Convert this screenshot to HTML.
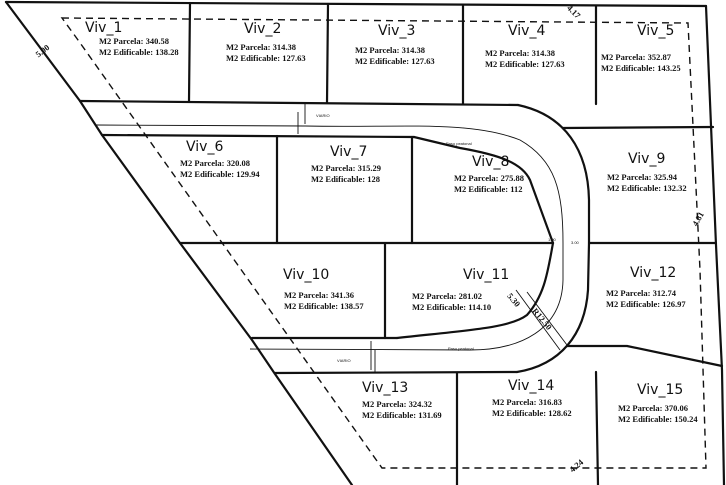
<!DOCTYPE html>
<html><head><meta charset="utf-8"><style>
html,body{margin:0;padding:0;background:#fff;width:726px;height:485px;overflow:hidden}
svg{display:block}
.v{font-family:"DejaVu Sans","Liberation Sans",sans-serif;font-size:14px;fill:#111}
.n{font-family:"Liberation Serif",serif;font-size:8.5px;fill:#111;font-weight:bold}
.s{font-family:"Liberation Sans",sans-serif;font-size:4px;fill:#111}
</style></head><body>
<svg width="726" height="485" viewBox="0 0 726 485" xmlns="http://www.w3.org/2000/svg">
<g fill="none" stroke="#111" stroke-width="2.2" stroke-linecap="round" stroke-linejoin="round">
<!-- outer -->
<line x1="6" y1="2" x2="706" y2="6"/>
<path d="M6 2 L80 101 L102 135 L180 243 L252 340 L275 374 L352 485"/>
<path d="M706 6 L716 245 L722 370 L724 485"/>
<!-- top row -->
<line x1="80" y1="101" x2="518" y2="105"/>
<line x1="190" y1="3" x2="189" y2="101"/>
<line x1="328" y1="4" x2="327" y2="103"/>
<line x1="463" y1="5" x2="463" y2="104"/>
<line x1="596" y1="6" x2="596" y2="104"/>
<line x1="563" y1="128" x2="713" y2="127"/>
<!-- road outer curve -->
<path d="M518 105 C565 115 588 150 589 200 L589 243 L588 290 C585 335 560 365 517 372"/>
<!-- middle row -->
<line x1="102" y1="135" x2="414" y2="137"/>
<line x1="277" y1="136" x2="277" y2="243"/>
<line x1="412" y1="137" x2="412" y2="243"/>
<path d="M414 137 L460 148 C500 155 522 163 530 180 L553 243"/>
<line x1="180" y1="243" x2="553" y2="243"/>
<line x1="589" y1="243" x2="716" y2="243"/>
<!-- row 3 -->
<line x1="385" y1="244" x2="385" y2="338"/>
<path d="M553 243 C548 270 545 295 527 315 C510 328 470 330 397 338"/>
<line x1="252" y1="338" x2="397" y2="338"/>
<path d="M567 346 L627 346 L722 366"/>
<!-- road bottom -->
<line x1="275" y1="373" x2="517" y2="372"/>
<!-- row 4 -->
<line x1="457" y1="373" x2="457" y2="485"/>
<line x1="596" y1="372" x2="598" y2="485"/>
</g>
<g fill="none" stroke="#111" stroke-width="0.9">
<path d="M95 125 L305 126 C400 128 470 120 520 140 C555 160 563 190 563 243 L563 280 C562 330 520 350 470 350 L250 349"/>
<line x1="298" y1="112" x2="298" y2="134"/>
<line x1="305" y1="104" x2="305" y2="124"/>
<line x1="371" y1="341" x2="371" y2="370"/>
<line x1="375" y1="350" x2="375" y2="372"/>
<line x1="527" y1="292" x2="567" y2="345"/>
<line x1="516" y1="290" x2="560" y2="350"/>
</g>
<!-- setback dashed -->
<path d="M62 18 L688 23 L700 270 L706 468 L382 468 L78 40 Z" fill="none" stroke="#111" stroke-width="1.4" stroke-dasharray="7,5"/>
<g class="s"><text x="316" y="117">VIARIO</text><text x="337" y="362">VIARIO</text>
<text x="446" y="145">Paso peatonal</text><text x="448" y="350">Paso peatonal</text>
<text x="548" y="241">1.90</text><text x="571" y="244">3.00</text></g>
<text x="34" y="55" class="n" transform="rotate(-38 40 50)">5.00</text>
<text x="565" y="12" class="n" transform="rotate(45 570 12)">4.17</text>
<text x="690" y="225" class="n" transform="rotate(-60 695 220)">4.81</text>
<text x="570" y="470" class="n" transform="rotate(-40 575 468)">4.24</text>
<text x="505" y="300" class="n" transform="rotate(50 510 300)">5.30</text>
<text x="530" y="315" class="n" transform="rotate(50 535 315)">R12.50</text>
<g class="v">
<text x="85" y="32">Viv_1</text><text x="244" y="33">Viv_2</text><text x="378" y="35">Viv_3</text>
<text x="508" y="35">Viv_4</text><text x="637" y="35">Viv_5</text>
<text x="186" y="151">Viv_6</text><text x="330" y="156">Viv_7</text><text x="472" y="166">Viv_8</text>
<text x="628" y="163">Viv_9</text>
<text x="283" y="279">Viv_10</text><text x="463" y="279">Viv_11</text><text x="630" y="277">Viv_12</text>
<text x="362" y="392">Viv_13</text><text x="508" y="390">Viv_14</text><text x="637" y="394">Viv_15</text>
</g>
<g class="n">
<text x="99" y="44">M2 Parcela: 340.58</text><text x="99" y="55">M2 Edificable: 138.28</text>
<text x="226" y="50">M2 Parcela: 314.38</text><text x="226" y="61">M2 Edificable: 127.63</text>
<text x="355" y="53">M2 Parcela: 314.38</text><text x="355" y="64">M2 Edificable: 127.63</text>
<text x="485" y="56">M2 Parcela: 314.38</text><text x="485" y="67">M2 Edificable: 127.63</text>
<text x="601" y="60">M2 Parcela: 352.87</text><text x="601" y="71">M2 Edificable: 143.25</text>
<text x="180" y="166">M2 Parcela: 320.08</text><text x="180" y="177">M2 Edificable: 129.94</text>
<text x="311" y="171">M2 Parcela: 315.29</text><text x="311" y="182">M2 Edificable: 128</text>
<text x="454" y="181">M2 Parcela: 275.88</text><text x="454" y="192">M2 Edificable: 112</text>
<text x="607" y="180">M2 Parcela: 325.94</text><text x="607" y="191">M2 Edificable: 132.32</text>
<text x="284" y="298">M2 Parcela: 341.36</text><text x="284" y="309">M2 Edificable: 138.57</text>
<text x="412" y="299">M2 Parcela: 281.02</text><text x="412" y="310">M2 Edificable: 114.10</text>
<text x="606" y="296">M2 Parcela: 312.74</text><text x="606" y="307">M2 Edificable: 126.97</text>
<text x="362" y="407">M2 Parcela: 324.32</text><text x="362" y="418">M2 Edificable: 131.69</text>
<text x="492" y="405">M2 Parcela: 316.83</text><text x="492" y="416">M2 Edificable: 128.62</text>
<text x="618" y="411">M2 Parcela: 370.06</text><text x="618" y="422">M2 Edificable: 150.24</text>
</g>
</svg>
</body></html>
